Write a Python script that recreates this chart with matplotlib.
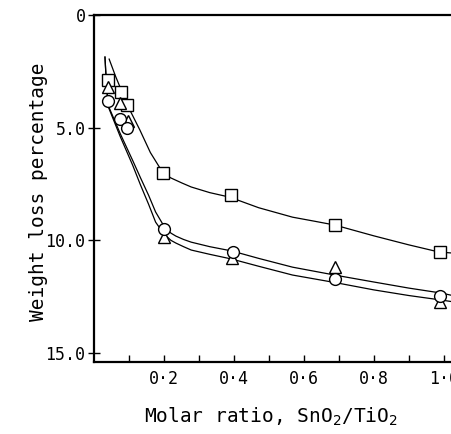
import matplotlib
matplotlib.use("Agg")
import matplotlib.pyplot as plt

# measured points (molar ratio SnO2/TiO2 vs weight loss %)
sq_x = [0.039, 0.077, 0.094, 0.196, 0.39, 0.69, 0.99]
sq_y = [2.9, 3.4, 4.0, 7.0, 8.0, 9.3, 10.5]

ci_x = [0.039, 0.074, 0.094, 0.199, 0.396, 0.69, 0.99]
ci_y = [3.8, 4.6, 5.0, 9.5, 10.5, 11.7, 12.45]

tr_x = [0.039, 0.074, 0.097, 0.199, 0.393, 0.69, 0.99]
tr_y = [3.2, 3.9, 4.7, 9.85, 10.8, 11.2, 12.75]

# fitted curves
sq_cx = [0.042, 0.06, 0.08, 0.097, 0.13, 0.16, 0.196, 0.219, 0.25, 0.277, 0.33, 0.387, 0.47, 0.567, 0.63, 0.688, 0.8, 0.9, 0.987, 1.04]
sq_cy = [1.95, 2.7, 3.45, 4.08, 5.1, 6.1, 7.0, 7.23, 7.45, 7.63, 7.88, 8.08, 8.55, 8.97, 9.15, 9.32, 9.8, 10.2, 10.52, 10.58]

ci_cx = [0.030, 0.034, 0.039, 0.074, 0.109, 0.132, 0.155, 0.175, 0.199, 0.219, 0.233, 0.255, 0.277, 0.33, 0.393, 0.47, 0.567, 0.691, 0.8, 0.9, 0.993, 1.04]
ci_cy = [1.86, 3.0, 4.0, 5.27, 6.44, 7.23, 8.0, 8.74, 9.37, 9.68, 9.81, 9.96, 10.08, 10.28, 10.47, 10.8, 11.19, 11.55, 11.85, 12.12, 12.34, 12.5]

tr_cx = [0.030, 0.034, 0.039, 0.074, 0.109, 0.132, 0.155, 0.175, 0.199, 0.219, 0.233, 0.255, 0.277, 0.33, 0.393, 0.47, 0.567, 0.691, 0.8, 0.9, 0.993, 1.04]
tr_cy = [1.86, 3.0, 4.05, 5.4, 6.65, 7.55, 8.4, 9.19, 9.72, 10.0, 10.12, 10.28, 10.43, 10.62, 10.83, 11.15, 11.54, 11.88, 12.2, 12.45, 12.65, 12.76]

xtick_vals = [0.1, 0.2, 0.3, 0.4, 0.5, 0.6, 0.7, 0.8, 0.9, 1.0]
xtick_txt = ["", "0·2", "", "0·4", "", "0·6", "", "0·8", "", "1·0"]
ytick_vals = [0, 5, 10, 15]
ytick_txt = ["0", "5.0", "10.0", "15.0"]

plt.rcParams['font.family'] = ['DejaVu Sans Mono']

fig = plt.figure(figsize=(4.51, 4.34), dpi=100)
ax = fig.add_axes([0.2095, 0.166, 0.80, 0.799])

lw = 0.9
ax.plot(sq_cx, sq_cy, color='black', lw=lw)
ax.plot(ci_cx, ci_cy, color='black', lw=lw)
ax.plot(tr_cx, tr_cy, color='black', lw=lw)

mk = dict(linestyle='none', markerfacecolor='white', markeredgecolor='black',
          markeredgewidth=1.0, zorder=3)
ax.plot(sq_x, sq_y, marker='s', markersize=8, **mk)
ax.plot(tr_x, tr_y, marker='^', markersize=8.5, **mk)
ax.plot(ci_x, ci_y, marker='o', markersize=8.5, **mk)

ax.set_xlim(0, 1.033)
ax.set_ylim(15.4, 0)

ax.set_xticks(xtick_vals)
ax.set_xticklabels(xtick_txt)
ax.set_yticks(ytick_vals)
ax.set_yticklabels(ytick_txt)
ax.tick_params(axis='x', direction='in', length=5, width=1, labelsize=12, pad=6)
ax.tick_params(axis='y', direction='inout', length=9, width=1, labelsize=12, pad=2)

for s in ['left', 'top', 'bottom']:
    ax.spines[s].set_linewidth(1.6)
ax.spines['right'].set_visible(False)

ax.set_xlabel("Molar ratio, SnO$_2$/TiO$_2$", fontsize=14)
ax.xaxis.set_label_coords(0.489, -0.125)
ax.set_ylabel("Weight loss percentage", fontsize=14)
ax.yaxis.set_label_coords(-0.13, 0.49)

fig.savefig("out.png", dpi=100)
